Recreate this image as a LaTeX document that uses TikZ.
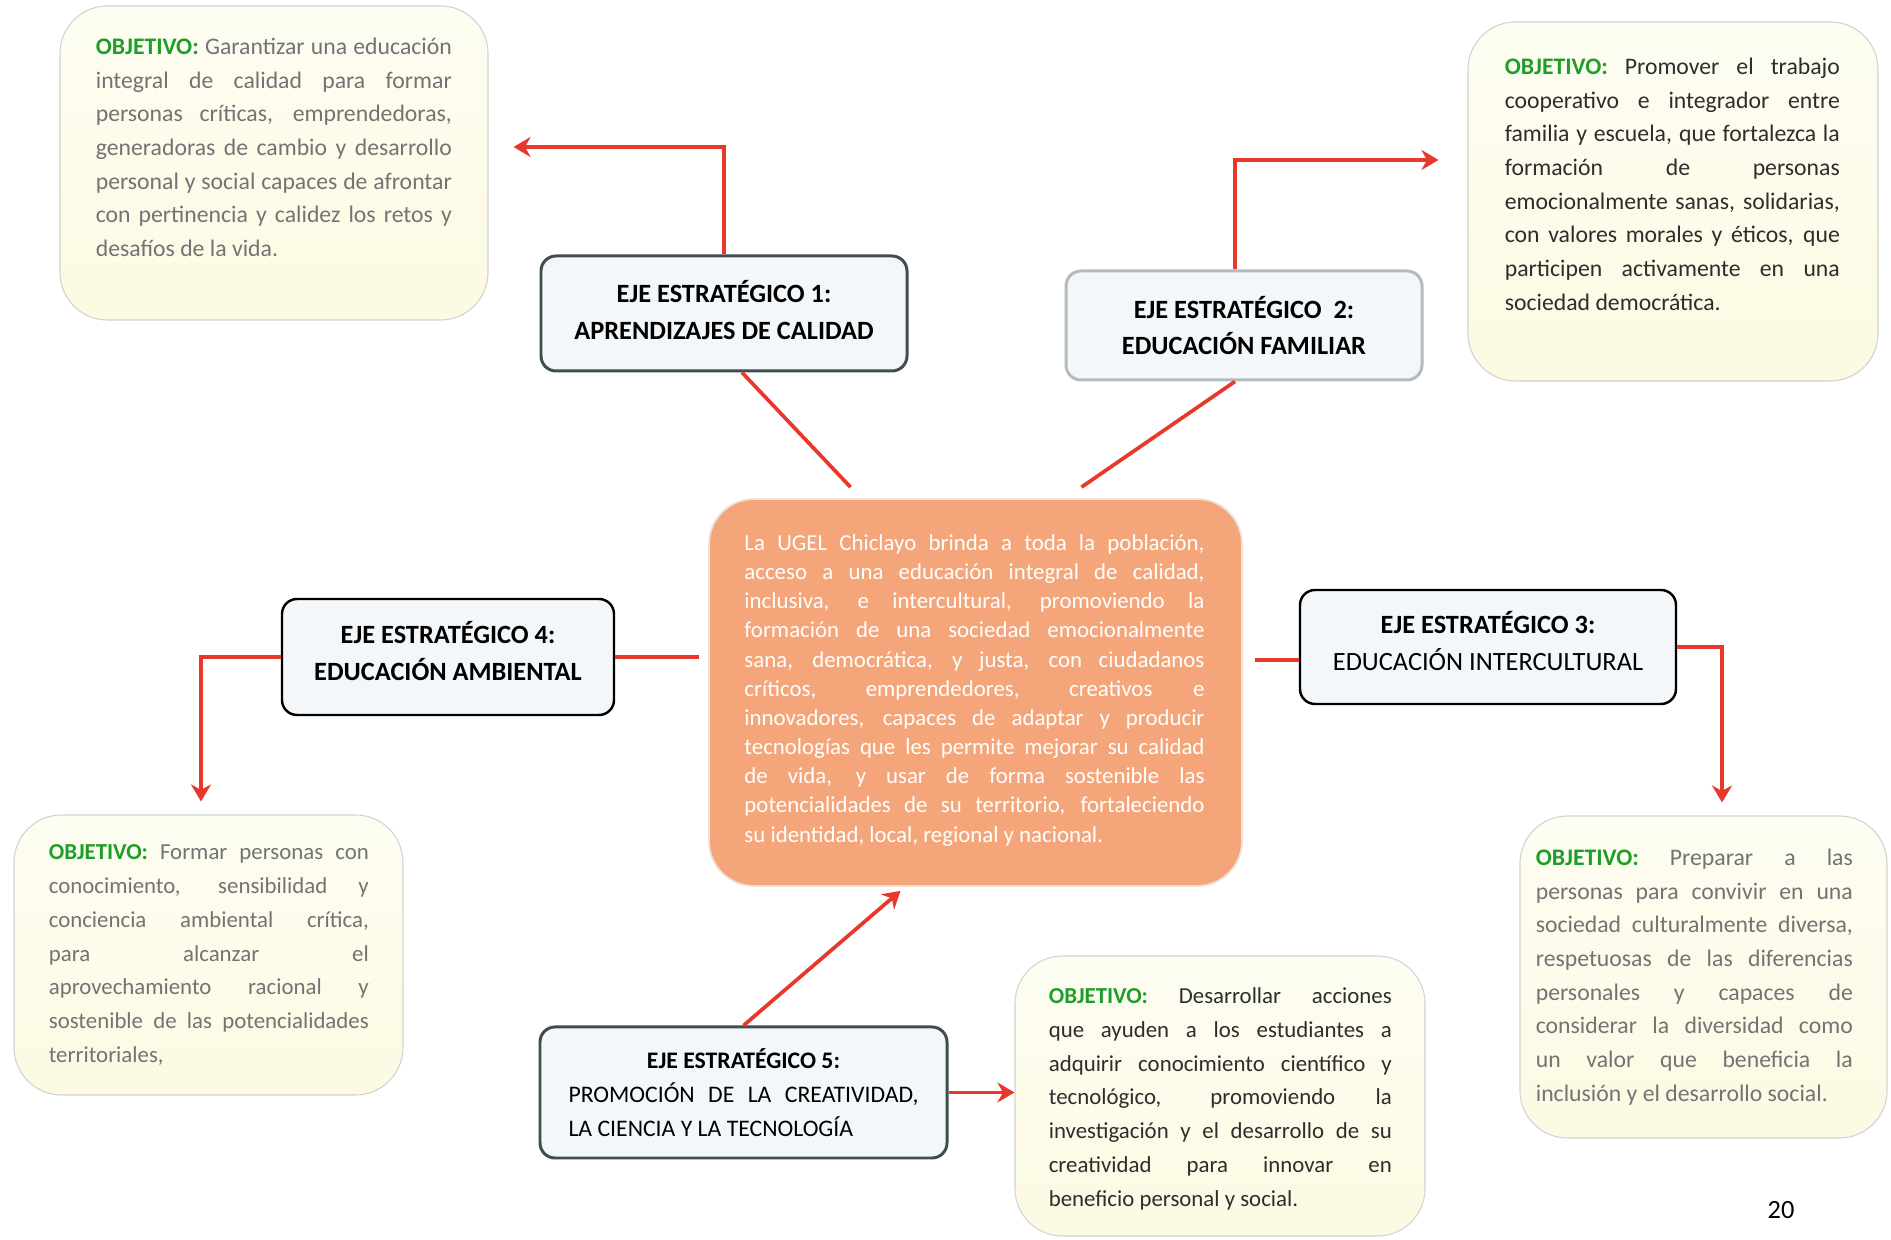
\documentclass[tikz,border=0pt]{standalone}
\usepackage{fontspec}
\setmainfont{Carlito}
\usepackage{tikz}
\usetikzlibrary{arrows.meta}
\definecolor{linkred}{RGB}{232,56,44}
\definecolor{objgreen}{RGB}{30,158,40}
\definecolor{slate}{RGB}{62,78,80}
\definecolor{lightslate}{RGB}{178,188,192}
\definecolor{ejefill}{RGB}{243,247,250}
\definecolor{objfill}{RGB}{252,250,226}
\definecolor{centerfill}{RGB}{244,166,122}
\definecolor{textgray}{RGB}{115,115,115}
\definecolor{textdark}{RGB}{45,45,45}
\newcommand{\objlbl}{\textcolor{objgreen}{\textbf{OBJETIVO:}}}
\hyphenpenalty=10000
\exhyphenpenalty=10000
\tolerance=10000

\begin{document}
\begin{tikzpicture}[x=0.2mm, y=0.2mm,
	objbox/.style={draw=gray!35, line width=0.6pt, rounded corners=9.5mm, top color=objfill!45, bottom color=objfill, inner sep=0pt},
	objtext/.style={anchor=north west, inner sep=0pt, align=justify, font=\fontsize{13.5}{19.2}\selectfont},
	ejebox/.style={draw=slate, line width=1.7pt, rounded corners=3mm, fill=ejefill, align=center, inner sep=0pt, font=\fontsize{15}{21}\selectfont},
	link/.style={draw=linkred, line width=2.1pt},
	linkarrow/.style={link, -{Stealth[length=3.4mm,width=4mm]}}]
	
	\path[use as bounding box, fill=white] (0,0) rectangle (1891,1240);
	
	%Zentrum
	\node[draw={rgb,255:red,238;green,226;blue,218}, line width=1pt, fill=centerfill, rounded corners=9mm, minimum width=106.6mm, minimum height=77.4mm] (c) at (975.5,547.5) {};
	\node[objtext, text width=92mm, text=white, font=\fontsize{13}{16.6}\selectfont] (ct) at ([shift={(36,-36)}]c.north west) {La UGEL Chiclayo brinda a toda la población,\linebreak
		acceso a una educación integral de calidad,\linebreak
		inclusiva, e intercultural, promoviendo la\linebreak
		formación de una sociedad emocionalmente\linebreak
		sana, democrática, y justa, con ciudadanos\linebreak
		críticos, emprendedores, creativos e\linebreak
		innovadores, capaces de adaptar y producir\linebreak
		tecnologías que les permite mejorar su calidad\linebreak
		de vida, y usar de forma sostenible las\linebreak
		potencialidades de su territorio, fortaleciendo\linebreak
		su identidad, local, regional y nacional.};
	
	%Ejes
	\node[ejebox, minimum width=73.2mm, minimum height=23mm] (e1) at (724,926.5) {\textbf{EJE ESTRATÉGICO 1:}\\\textbf{APRENDIZAJES DE CALIDAD}\\[-17pt]};
	\node[ejebox, draw=lightslate, minimum width=71.2mm, minimum height=21.8mm] (e2) at (1244,914.5) {\textbf{EJE ESTRATÉGICO \ 2:}\\\textbf{EDUCACIÓN FAMILIAR}};
	\node[ejebox, draw=black, line width=1.4pt, minimum width=75.2mm, minimum height=22.8mm] (e3) at (1488,593) {\textbf{EJE ESTRATÉGICO 3:}\\EDUCACIÓN INTERCULTURAL\\[-14pt]};
	\node[ejebox, draw=black, line width=1.4pt, minimum width=66.4mm, minimum height=23.2mm] (e4) at (448,583) {\textbf{EJE ESTRATÉGICO 4:}\\\textbf{EDUCACIÓN AMBIENTAL}\\[-14pt]};
	\node[ejebox, minimum width=81.4mm, minimum height=26.2mm, text width=70mm, align=justify, font=\fontsize{13.5}{19.2}\selectfont] (e5) at (743.5,147.5) {\makebox[\linewidth][c]{\textbf{EJE ESTRATÉGICO 5:}}\linebreak
		PROMOCIÓN DE LA CREATIVIDAD,\linebreak
		LA CIENCIA Y LA TECNOLOGÍA};
	
	%Objetivos
	\node[objbox, minimum width=85.6mm, minimum height=62.8mm] (o1) at (274,1077) {};
	\node[objtext, text width=71.2mm, text=textgray] (t1) at ([shift={(36,-32)}]o1.north west) {\objlbl{} Garantizar una educación\linebreak
		integral de calidad para formar\linebreak
		personas críticas, emprendedoras,\linebreak
		generadoras de cambio y desarrollo\linebreak
		personal y social capaces de afrontar\linebreak
		con pertinencia y calidez los retos y\linebreak
		desafíos de la vida.};
	
	\node[objbox, minimum width=82mm, minimum height=71.8mm] (o2) at (1673,1038.5) {};
	\node[objtext, text width=67mm, text=textdark] (t2) at ([shift={(37,-36)}]o2.north west) {\objlbl{} Promover el trabajo\linebreak
		cooperativo e integrador entre\linebreak
		familia y escuela, que fortalezca la\linebreak
		formación de personas\linebreak
		emocionalmente sanas, solidarias,\linebreak
		con valores morales y éticos, que\linebreak
		participen activamente en una\linebreak
		sociedad democrática.};
	
	\node[objbox, minimum width=73.4mm, minimum height=64.4mm] (o3) at (1703.5,263) {};
	\node[objtext, text width=63.4mm, text=textgray] (t3) at ([shift={(16,-33)}]o3.north west) {\objlbl{} Preparar a las\linebreak
		personas para convivir en una\linebreak
		sociedad culturalmente diversa,\linebreak
		respetuosas de las diferencias\linebreak
		personales y capaces de\linebreak
		considerar la diversidad como\linebreak
		un valor que beneficia la\linebreak
		inclusión y el desarrollo social.};
	
	\node[objbox, minimum width=77.8mm, minimum height=56mm] (o4) at (208.5,285) {};
	\node[objtext, text width=64mm, text=textgray, font=\fontsize{13}{19.2}\selectfont] (t4) at ([shift={(35,-30)}]o4.north west) {\objlbl{} Formar personas con\linebreak
		conocimiento, sensibilidad y\linebreak
		conciencia ambiental crítica,\linebreak
		para alcanzar el\linebreak
		aprovechamiento racional y\linebreak
		sostenible de las potencialidades\linebreak
		territoriales,};
	
	\node[objbox, minimum width=82mm, minimum height=56mm] (o5) at (1220,144) {};
	\node[objtext, text width=68.6mm, text=textdark, font=\fontsize{13}{19.2}\selectfont] (t5) at ([shift={(34,-32)}]o5.north west) {\objlbl{} Desarrollar acciones\linebreak
		que ayuden a los estudiantes a\linebreak
		adquirir conocimiento científico y\linebreak
		tecnológico, promoviendo la\linebreak
		investigación y el desarrollo de su\linebreak
		creatividad para innovar en\linebreak
		beneficio personal y social.};
	
	\node[font=\fontsize{15}{18}\selectfont] (pg) at (1781,30) {20};
	
	%Pfeilenden
	\coordinate (a1) at ([shift={(25,16)}]o1.east);
	\coordinate (a2) at ([shift={(-29,41.5)}]o2.west);
	\coordinate (a3) at ([shift={(18.5,13)}]o3.north);
	\coordinate (a4) at ([shift={(-7.5,13)}]o4.north);
	
	\draw[linkarrow] (e1.north) |- (a1);
	\draw[linkarrow] ([xshift=-1.8mm]e2.north) |- (a2);
	\draw[linkarrow] (e3.east) -| (a3);
	\draw[linkarrow] (e4.west) -| (a4);
	\draw[linkarrow] (e5.north) -- ([shift={(-75,-4)}]c.south);
	\draw[linkarrow] (e5.east) -- (e5.east -| o5.west);
	
	\path[link]
	([xshift=3.6mm]e1.south) edge ([shift={(-125,11)}]c.north)
	([xshift=-1.8mm]e2.south) edge ([shift={(106,11)}]c.north)
	(e4.east) edge ([xshift=-1.8mm]e4.east -| c.west)
	([yshift=-2.6mm]e3.west) edge ([xshift=2.4mm,yshift=-2.6mm]e3.west -| c.east);
	
\end{tikzpicture}
\end{document}
